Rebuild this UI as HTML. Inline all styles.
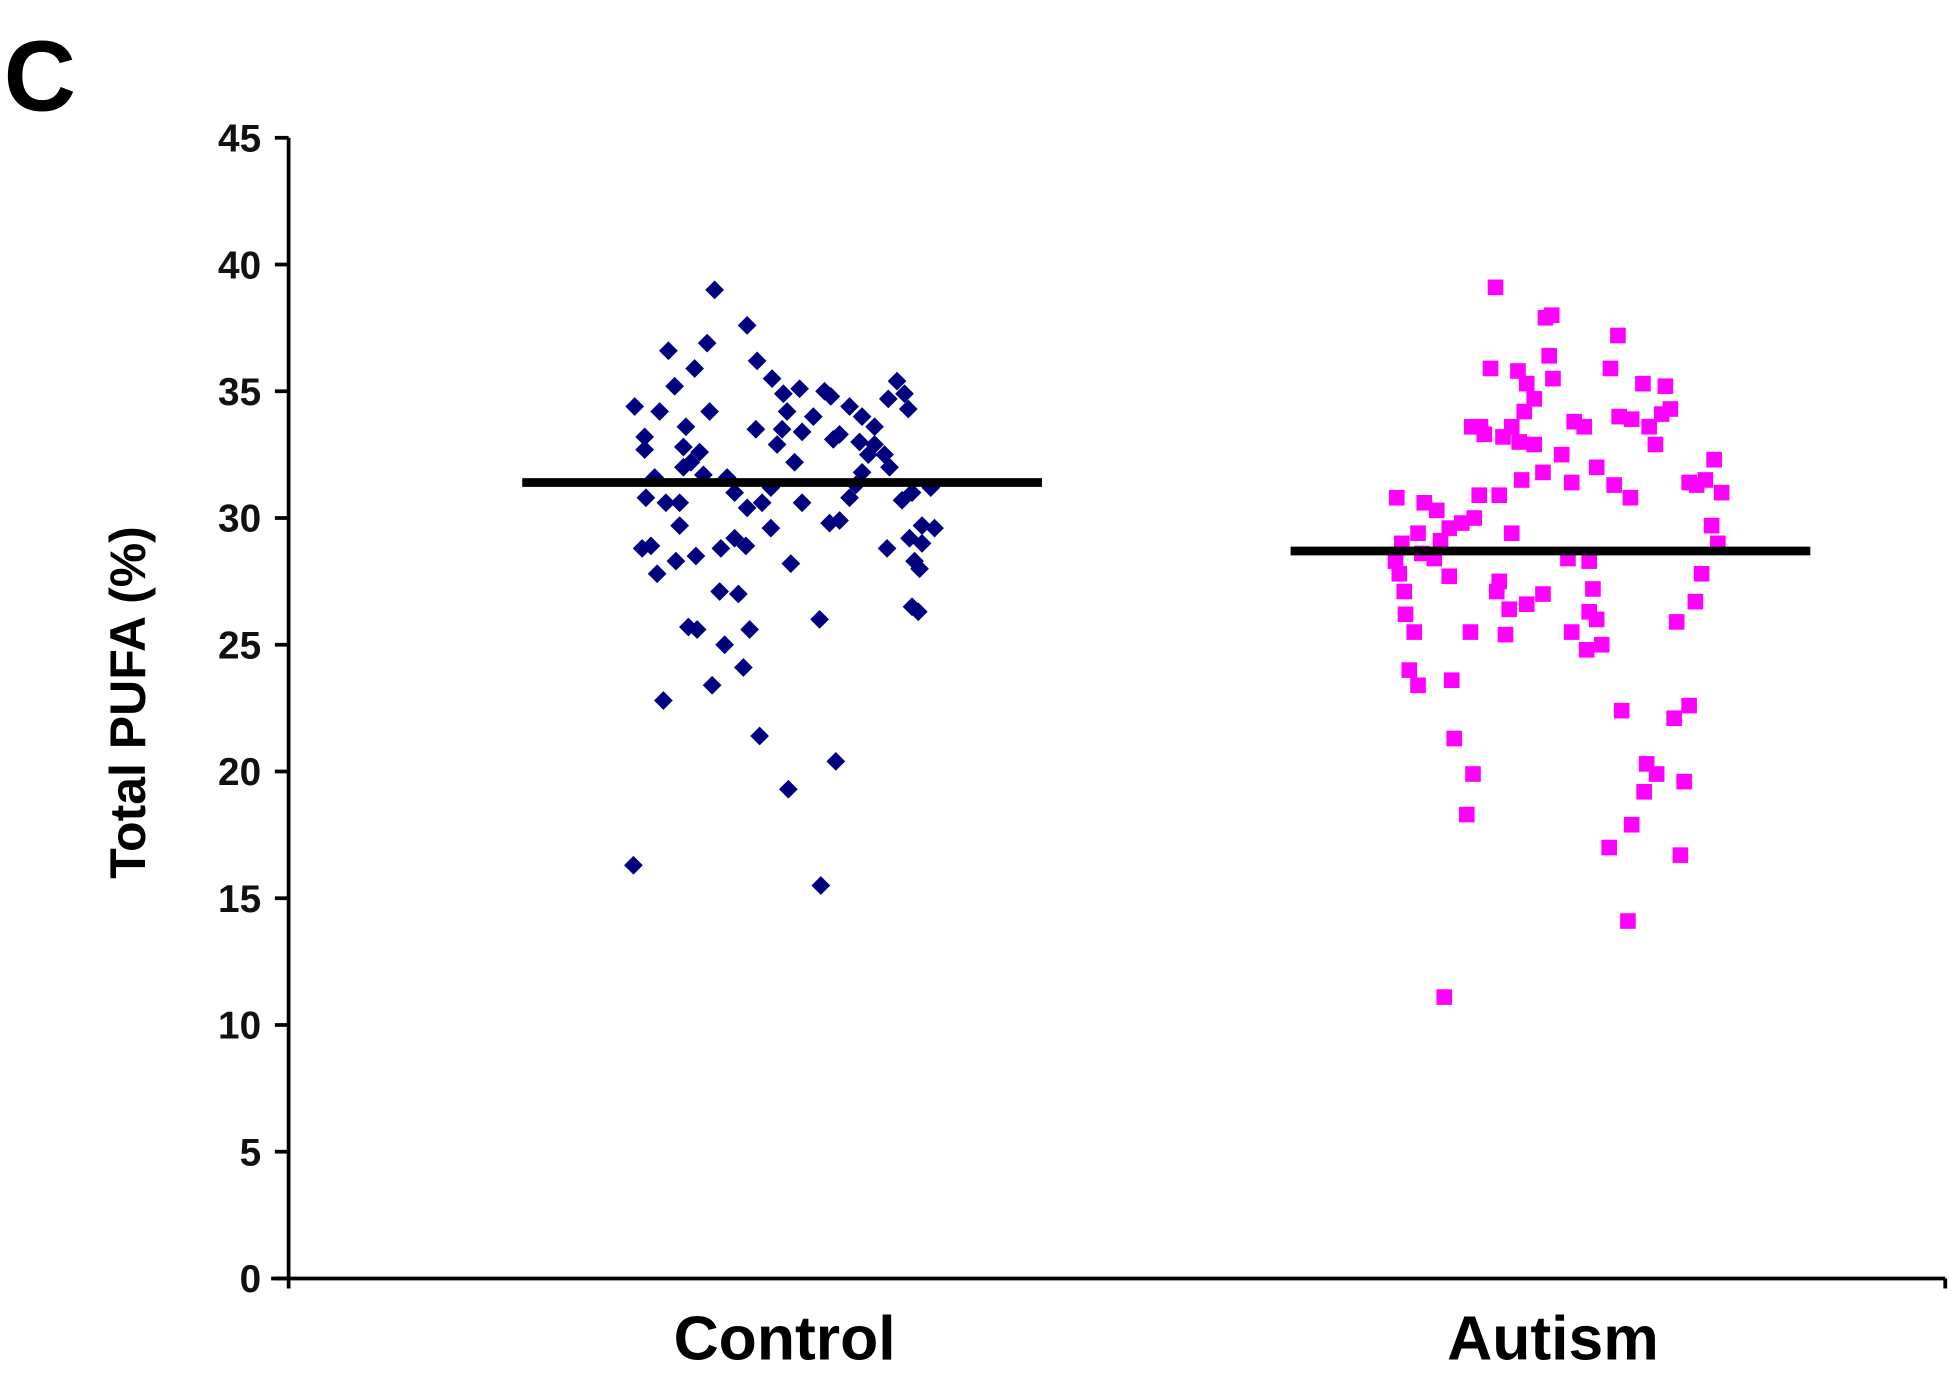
<!DOCTYPE html>
<html><head><meta charset="utf-8">
<style>
html,body{margin:0;padding:0;background:#fff;}
svg{display:block;font-family:"Liberation Sans",Arial,sans-serif;font-weight:bold;}
</style></head>
<body>
<svg id="chart" width="1959" height="1375" viewBox="0 0 1568 1100" xmlns="http://www.w3.org/2000/svg">
<text x="3" y="88" font-size="80" fill="#000">C</text>
<text transform="translate(116,562) rotate(-90)" text-anchor="middle" font-size="40" fill="#000">Total PUFA (%)</text>
<g id="axes"></g>
<g id="marks"></g>
</svg>
<script>
const categories = ["Control", "Autism"];
const yTicks = [0, 5, 10, 15, 20, 25, 30, 35, 40, 45];
const means = [31.4, 28.7];
const controlJitter = [572,598,535,566,556,606,540,508,528,568,516,549,516,547,560,553,524,563,582,547,605,618,627,640,630,651,660,665,680,690,700,718,724,727,711,642,626,622,672,667,688,695,700,708,712,690,685,636,617,610,598,588,533,517,544,642,680,722,730,745,748,738,738,728,710,732,736,730,735,672,664,617,544,514,521,541,557,577,588,597,526,576,591,633,551,558,580,600,595,570,656,531,608,669,631,507,657].map(v=>v-628);
const controlValues = [39.0,37.6,36.6,36.9,35.9,36.2,35.2,34.4,34.2,34.2,33.2,33.6,32.7,32.8,32.6,32.2,31.6,31.7,31.6,32.0,33.5,35.5,34.9,35.1,34.2,34.0,35.0,34.8,34.4,34.0,33.6,35.4,34.9,34.3,34.7,33.4,33.5,32.9,33.3,33.1,33.0,32.5,32.9,32.5,32.0,31.8,31.3,32.2,31.2,30.6,30.4,31.0,30.6,30.8,30.6,30.6,30.8,30.7,31.0,31.2,29.6,29.7,29.0,29.2,28.8,28.3,28.0,26.5,26.3,29.9,29.8,29.6,29.7,28.8,28.9,28.3,28.5,28.8,29.2,28.9,27.8,27.1,27.0,28.2,25.7,25.6,25.0,25.6,24.1,23.4,26.0,22.8,21.4,20.4,19.3,16.3,15.5];
const autismJitter = [1197,1242,1237,1295,1240,1193,1215,1289,1243,1222,1315,1333,1228,1337,1330,1220,1178,1188,1185,1210,1260,1268,1296,1306,1320,1216,1228,1203,1250,1278,1325,1235,1258,1292,1305,1218,1200,1184,1150,1160,1170,1153,1135,1140,1180,1118,1122,1117,1138,1148,1120,1124,1160,1200,1198,1210,1255,1272,1275,1235,1222,1208,1272,1278,1258,1270,1282,1205,1125,1132,1128,1135,1162,1177,1365,1372,1378,1352,1358,1370,1375,1362,1357,1342,1298,1340,1352,1318,1326,1316,1348,1164,1179,1174,1306,1288,1345,1303,1156].map(v=>v-1243);
const autismValues = [39.1,38.0,37.9,37.2,36.4,35.9,35.8,35.9,35.5,35.3,35.3,35.2,34.7,34.3,34.1,34.2,33.6,33.3,33.6,33.6,33.8,33.6,34.0,33.9,33.6,33.0,32.9,33.2,32.5,32.0,32.9,31.8,31.4,31.3,30.8,31.5,30.9,30.9,30.3,29.6,29.8,29.1,29.4,30.6,30.0,30.8,29.0,28.3,28.6,28.4,27.8,27.1,27.7,27.5,27.1,29.4,28.4,28.3,27.2,27.0,26.6,26.4,26.3,26.0,25.5,24.8,25.0,25.4,26.2,25.5,24.0,23.4,23.6,25.5,31.5,32.3,31.0,31.4,31.3,29.7,29.0,27.8,26.7,25.9,22.4,22.1,22.6,20.3,19.9,19.2,19.6,21.3,19.9,18.3,17.9,17.0,16.7,14.1,11.1];

const NS = "http://www.w3.org/2000/svg";
const X0 = 231, X1 = 1557, Y0 = 1023, Y45 = 110;
const yScale = v => Y0 - (v / 45) * (Y0 - Y45);
const catCenters = [628, 1243];
const xScale = (ci, j) => catCenters[ci] + j;
function mk(tag, attrs, parent) { const e = document.createElementNS(NS, tag); for (const k in attrs) e.setAttribute(k, attrs[k]); parent.appendChild(e); return e; }
const axes = document.getElementById('axes');
const marks = document.getElementById('marks');

let yl = mk('line', {x1: X0, y1: Y45, x2: X0, y2: Y0 + 8, stroke: '#000', 'stroke-width': 3}, axes);


let xl = mk('line', {x1: X0 - 14, y1: Y0, x2: X1, y2: Y0, stroke: '#000', 'stroke-width': 3}, axes);


let xt = mk('line', {x1: X1, y1: Y0, x2: X1, y2: Y0 + 8, stroke: '#000', 'stroke-width': 3}, axes);



yTicks.forEach(t => {
  const y = yScale(t);
  const tk = mk('line', {x1: X0 - 11, y1: y, x2: X0, y2: y, stroke: '#000', 'stroke-width': 3}, axes);
  
  
  const tx = mk('text', {x: 209, y: y + 11, 'text-anchor': 'end', 'font-size': 31, fill: '#111'}, axes);
  tx.textContent = t;
  
  
});

categories.forEach((c, i) => {
  const tx = mk('text', {x: catCenters[i], y: 1088, 'text-anchor': 'middle', 'font-size': 50, fill: '#000'}, axes);
  tx.textContent = c;
  
  
});

controlValues.forEach((v, i) => {
  const x = xScale(0, controlJitter[i]), y = yScale(v), r = 7.5;
  const p = mk('polygon', {points: `${x},${y-r} ${x+r},${y} ${x},${y+r} ${x-r},${y}`, fill: '#00007f'}, marks);
  
  
});
autismValues.forEach((v, i) => {
  const x = xScale(1, autismJitter[i]), y = yScale(v), s = 12.5;
  const p = mk('rect', {x: x - s/2, y: y - s/2, width: s, height: s, fill: '#ff00ff'}, marks);
  
  
});

means.forEach((m, i) => {
  const y = yScale(m);
  const l = mk('line', {x1: catCenters[i] - 210, y1: y, x2: catCenters[i] + 206, y2: y, stroke: '#000', 'stroke-width': 7}, marks);
  
  
});
</script>
</body></html>
